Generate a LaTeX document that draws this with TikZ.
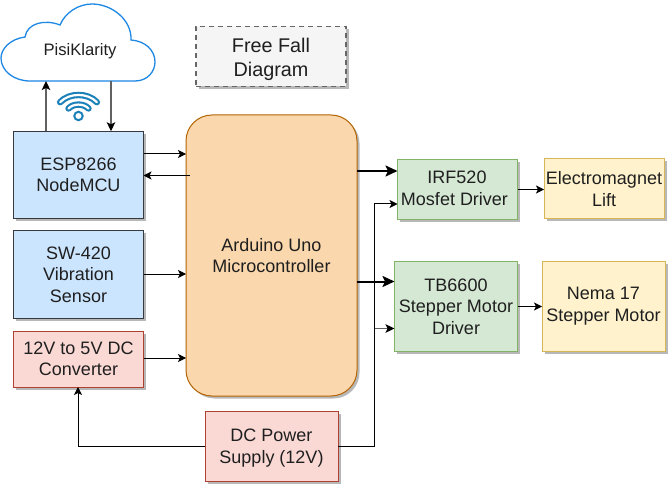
\documentclass[tikz,border=0pt]{standalone}
\usepackage{fontspec}
\setmainfont{Liberation Sans}
\usetikzlibrary{arrows.meta,shadows,calc}
\definecolor{bluef}{HTML}{CCE5FF}\definecolor{blued}{HTML}{36393D}
\definecolor{redf}{HTML}{FAD9D5}\definecolor{redd}{HTML}{AE4132}
\definecolor{grnf}{HTML}{D5E8D4}\definecolor{grnd}{HTML}{82B366}
\definecolor{yelf}{HTML}{FFF2CC}\definecolor{yeld}{HTML}{D6B656}
\definecolor{orgf}{HTML}{FAD7AC}\definecolor{orgd}{HTML}{B46504}
\definecolor{greyf}{HTML}{F5F5F5}\definecolor{greyd}{HTML}{666666}
\definecolor{txt}{HTML}{1F1F1F}\definecolor{wifi}{HTML}{1B81B8}\definecolor{cloudc}{HTML}{1E88E5}
\tikzset{
  block/.style={draw,line width=1pt,inner sep=0pt,outer sep=0pt,align=center,text=txt,
    font=\fontsize{18}{21.5}\selectfont,
    drop shadow={opacity=.28,shadow xshift=2.5pt,shadow yshift=-2.5pt,fill=black}},
  bluebox/.style={block,fill=bluef,draw=blued},
  redbox/.style={block,fill=redf,draw=redd},
  grnbox/.style={block,fill=grnf,draw=grnd},
  yelbox/.style={block,fill=yelf,draw=yeld},
  boxtext/.style={inner sep=0pt,align=center,text=txt,font=\fontsize{18}{21.5}\selectfont},
  conn/.style={line width=1pt,-{Stealth[length=8pt,width=8pt,inset=2pt]}},
  thick conn/.style={line width=2pt,-{Stealth[length=12pt,width=11pt,inset=2.5pt]}},
  grey conn/.style={line width=1.4pt,draw=black!62,-{Stealth[length=9pt,width=8.5pt,inset=2pt,color=black,fill=black]}}
}
\begin{document}
\begin{tikzpicture}[x=1pt,y=-1pt]
\useasboundingbox (0,0) rectangle (672,489);
\fill[white] (0,0) rectangle (672,489);
% cloud
\draw[line width=1.3pt,draw=cloudc,fill=white] (30,81) -- (135,81)
  .. controls (148,81) and (155,71) .. (155,62)
  .. controls (155,50) and (145,41) .. (131,40)
  .. controls (132,20) and (112,4) .. (92,4)
  .. controls (78,4) and (65,13) .. (60,25)
  .. controls (45,19) and (27,23) .. (25,37)
  .. controls (10,39) and (1,49) .. (1,58)
  .. controls (1,71) and (14,81) .. (30,81) -- cycle;
\node[inner sep=0pt,text=txt,font=\fontsize{16.6}{20}\selectfont] (cloud) at (80,51.5) {PisiKlarity};
\coordinate (cloudin) at (46,81);
\coordinate (cloudout) at (111,81);
% wifi
\foreach \r in {23,12.5}{
  \draw[wifi,line width=6.4pt,line cap=round] ($(78.5,116)+(-\r*0.8,-\r*0.6)$) .. controls ($(78.5,116)+(-\r*0.4,-\r*1.02)$) and ($(78.5,116)+(\r*0.4,-\r*1.02)$) .. ($(78.5,116)+(\r*0.8,-\r*0.6)$);
  \draw[white,line width=2.2pt,line cap=round] ($(78.5,116)+(-\r*0.8,-\r*0.6)$) .. controls ($(78.5,116)+(-\r*0.4,-\r*1.02)$) and ($(78.5,116)+(\r*0.4,-\r*1.02)$) .. ($(78.5,116)+(\r*0.8,-\r*0.6)$);
}
\draw[wifi,line width=2pt,fill=white] (78.5,116) circle (4.2);
% title
\node[block,fill=greyf,draw=greyd,line width=1.4pt,dash pattern=on 5pt off 4pt,minimum width=150pt,minimum height=60pt] (title) at (271,56.5) {};
\node[boxtext,font=\fontsize{19.8}{24}\selectfont] (titletext) at (271,59.5) {Free Fall\\Diagram};
% left
\node[bluebox,minimum width=130pt,minimum height=87.5pt] (esp) at (78.5,175) {ESP8266\\NodeMCU};
\node[bluebox,minimum width=130pt,minimum height=87pt] (sw) at (78.5,274.5) {SW-420\\Vibration\\Sensor};
\node[redbox,minimum width=130pt,minimum height=56pt] (conv) at (78.5,359) {12V to 5V DC\\Converter};
% centre
\node[block,fill=orgf,draw=orgd,rounded corners=26pt,minimum width=171pt,minimum height=281pt] (ard) at (271.5,255.5) {Arduino Uno\\Microcontroller};
\node[redbox,minimum width=133pt,minimum height=70pt] (dc) at (271.5,446) {};
\node[boxtext] (dctext) at (271.5,448) {DC Power\\Supply (12V)};
% right
\node[grnbox,minimum width=120pt,minimum height=60pt] (irf) at (457.5,189.5) {};
\node[boxtext] (irftext) at (457,188.5) {IRF520\\Mosfet Driver\hspace*{5pt}};
\node[grnbox,minimum width=123pt,minimum height=90pt] (tb) at (456,306.5) {TB6600\\Stepper Motor\\Driver};
\node[yelbox,minimum width=120pt,minimum height=60pt] (em) at (604,189) {Electromagnet\\Lift};
\node[yelbox,minimum width=123pt,minimum height=90pt] (nema) at (603.5,306) {Nema 17\\Stepper Motor};
% connectors
\draw[grey conn] (46,0 |- esp.north) -- (cloudin);
\draw[grey conn] (cloudout) -- (111,0 |- esp.north);
\draw[conn] (esp.east |- 0,154) -- (ard.west |- 0,154);
\coordinate (ardback) at (190,175.5);
\draw[conn] (ardback) -- (esp.east |- ardback);
\draw[conn] (sw.east |- 0,274) -- (ard.west |- 0,274);
\draw[conn] (conv.east |- 0,358) -- (ard.west |- 0,358);
\draw[thick conn] (ard.east |- 0,171) -- (irf.west |- 0,171);
\draw[thick conn] (ard.east |- 0,281.5) -- (tb.west |- 0,281.5);
\draw[conn] (dc.east) -- (374.5,0 |- dc.east) -- (374.5,204) -- (irf.west |- 0,204);
\draw[grey conn] (374.5,328.5) -- (tb.west |- 0,328.5);
\draw[conn] (dc.west) -- (78,0 |- dc.west) -- (conv.south -| 78,0);
\draw[conn] (irf.east) -- (em.west |- irf.east);
\draw[conn] (tb.east) -- (nema.west |- tb.east);
\end{tikzpicture}
\end{document}
